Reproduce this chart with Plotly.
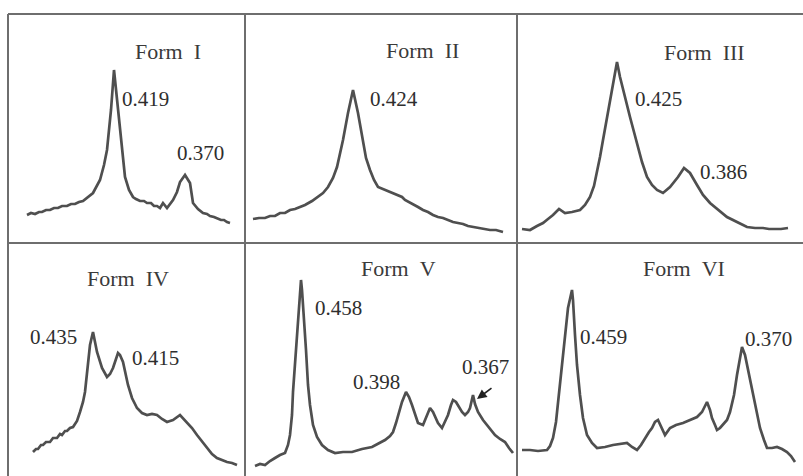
import plotly.graph_objects as go

# ---- Diffraction traces for six crystal forms (scan position, intensity) ----
form1_pos = [19, 23, 27, 31, 34, 38, 42, 46, 50, 54, 59, 63, 67, 71, 75, 80, 85, 92, 96, 99, 103,
             106, 109, 113, 117, 121, 125, 128, 132, 136, 139, 143, 146, 149, 152, 155, 159, 165,
             169, 172, 177, 182, 185, 190, 195, 199, 202, 206, 209, 213, 216, 219, 222]
form1_int = [28, 30, 29, 31, 31, 33, 33, 35, 35, 37, 37, 39, 39, 41, 42, 46, 50, 63, 78, 93, 133,
             173, 143, 103, 66, 53, 46, 44, 42, 42, 40, 40, 37, 37, 35, 40, 35, 43,
             51, 61, 68, 60, 40, 34, 30, 29, 27, 26, 25, 23, 23, 21, 20]

form2_pos = [8, 14, 20, 25, 30, 35, 40, 45, 50, 55, 60, 67, 73, 78, 83, 88, 92, 98, 103, 108,
             113, 118, 121, 125, 129, 133, 140, 144, 147, 150, 153, 157, 160, 166, 170, 173, 178,
             183, 188, 193, 198, 203, 208, 213, 218, 223, 228, 233, 239, 245, 251, 258]
form2_int = [24, 25, 25, 27, 27, 30, 30, 33, 34, 36, 38, 42, 46, 50, 56, 65, 76, 103, 130, 153,
             130, 100, 85, 73, 63, 56, 53, 51, 50, 49, 47, 46, 43, 40, 38, 36, 33,
             31, 28, 26, 25, 23, 21, 20, 19, 17, 16, 15, 14, 13, 13, 11]

form3_pos = [5, 13, 20, 26, 31, 36, 42, 48, 55, 63, 68, 73, 77, 80, 83, 86, 90, 93, 97, 100,
             103, 106, 110, 113, 117, 120, 125, 130, 135, 140, 146, 153, 157, 161, 167, 173, 180,
             186, 193, 201, 210, 220, 230, 238, 246, 252, 258, 264, 271]
form3_int = [14, 13, 17, 20, 24, 28, 34, 30, 31, 33, 38, 46, 57, 70, 86, 103, 125, 143, 165, 181,
             166, 153, 138, 126, 111, 100, 81, 66, 58, 53, 50, 56, 61, 66, 75, 70, 58,
             48, 40, 33, 26, 21, 16, 15, 15, 14, 14, 14, 15]

form4_pos = [25, 28, 30, 33, 35, 38, 42, 45, 49, 52, 54, 57, 59, 62, 65, 69, 72, 75, 77, 80, 82,
             85, 87, 89, 94, 99, 102, 105, 110, 112, 115, 118, 120, 124, 129, 134, 139, 144, 149,
             154, 159, 162, 165, 172, 179, 184, 189, 194, 199, 204, 209, 214, 219, 224, 229]
form4_int = [24, 27, 27, 31, 31, 34, 34, 38, 38, 42, 41, 45, 45, 48, 49, 55, 64, 74, 84, 114, 131,
             144, 134, 124, 108, 99, 102, 108, 123, 121, 114, 101, 91, 78, 68, 63, 61, 62, 61,
             57, 54, 55, 56, 61, 54, 48, 41, 35, 28, 22, 18, 16, 14, 13, 11]

form5_pos = [10, 15, 20, 25, 30, 35, 40, 43, 45, 47, 48, 50, 52, 54, 56, 57, 59, 61, 63, 65,
             68, 72, 77, 83, 90, 98, 107, 117, 127, 135, 140, 145, 148, 151, 153, 157, 161, 164,
             167, 170, 173, 178, 182, 185, 188, 190, 193, 197, 200, 203, 206, 208, 211, 213, 217,
             220, 223, 225, 228, 230, 233, 238, 242, 246, 250, 255, 260, 264, 268]
form5_int = [10, 12, 11, 15, 18, 21, 23, 31, 41, 61, 84, 114, 141, 176, 196, 186, 158, 126, 91, 71,
             51, 39, 31, 26, 23, 24, 24, 27, 29, 33, 36, 40, 44, 53, 61, 74, 84, 79,
             71, 61, 53, 51, 61, 68, 64, 59, 53, 48, 54, 61, 71, 76, 74, 71, 64,
             61, 64, 68, 81, 72, 64, 56, 51, 46, 41, 37, 34, 28, 23]

form6_pos = [5, 13, 21, 30, 33, 36, 39, 41, 44, 46, 49, 51, 55, 56, 58, 60, 63, 66, 70, 75,
             80, 88, 96, 103, 110, 115, 120, 124, 128, 132, 135, 138, 141, 144, 148, 153, 159, 166,
             173, 180, 185, 190, 193, 195, 198, 200, 203, 206, 210, 213, 217, 220, 223, 225, 228,
             230, 233, 236, 240, 243, 247, 250, 255, 260, 265, 270, 274, 278]
form6_int = [26, 26, 25, 26, 30, 38, 54, 74, 101, 124, 151, 168, 186, 176, 141, 111, 81, 58, 41, 33,
             28, 29, 31, 32, 33, 29, 26, 31, 38, 44, 48, 54, 56, 49, 41, 48, 51, 53,
             56, 59, 64, 74, 66, 58, 51, 46, 48, 51, 56, 64, 81, 101, 119, 129, 121,
             111, 96, 81, 63, 48, 36, 28, 28, 29, 27, 24, 20, 14]

form_names = ["Form&nbsp;&nbsp;I", "Form&nbsp;&nbsp;II", "Form&nbsp;&nbsp;III",
              "Form&nbsp;&nbsp;IV", "Form&nbsp;&nbsp;V", "Form&nbsp;&nbsp;VI"]

# d-spacing labels (nm) per panel: (text, x, y)
peak_labels = [
    [("0.419", 112, 144), ("0.370", 167, 90)],
    [("0.424", 123, 144)],
    [("0.425", 116, 144), ("0.386", 181, 71)],
    [("0.435", 20, 139), ("0.415", 122, 118)],
    [("0.458", 68, 168), ("0.398", 106, 94), ("0.367", 215, 109)],
    [("0.459", 61, 139), ("0.370", 226, 137)],
]
title_pos = [(160, 192), (177, 193), (187, 191), (120, 198), (153, 208), (167, 208)]

traces = [(form1_pos, form1_int), (form2_pos, form2_int), (form3_pos, form3_int),
          (form4_pos, form4_int), (form5_pos, form5_int), (form6_pos, form6_int)]

W, H = 803, 476
col_edges = [8, 245, 517, 803]
row_edges = [14, 243, 476]

fig = go.Figure()
line_color = "#4f4f4f"
text_color = "#2e2e2e"
serif = "Liberation Serif, Times New Roman, serif"

for i, (xs, ys) in enumerate(traces):
    r, c = divmod(i, 3)
    n = i + 1
    xa = "xaxis" if n == 1 else f"xaxis{n}"
    ya = "yaxis" if n == 1 else f"yaxis{n}"
    xref = "x" if n == 1 else f"x{n}"
    yref = "y" if n == 1 else f"y{n}"
    x0, x1 = col_edges[c], col_edges[c + 1]
    y0, y1 = row_edges[r], row_edges[r + 1]
    fig.add_trace(go.Scatter(x=xs, y=ys, mode="lines", xaxis=xref, yaxis=yref,
                             line=dict(color=line_color, width=2.7), showlegend=False,
                             hoverinfo="skip"))
    fig.update_layout(**{
        xa: dict(domain=[x0 / W, x1 / W], range=[0, x1 - x0], visible=False, fixedrange=True),
        ya: dict(domain=[1 - y1 / H, 1 - y0 / H], range=[0, y1 - y0], visible=False,
                 fixedrange=True),
    })
    tx, ty = title_pos[i]
    fig.add_annotation(x=tx, y=ty, xref=xref, yref=yref, text=form_names[i], showarrow=False,
                       xanchor="center", yanchor="middle",
                       font=dict(family=serif, size=22, color="#3a3a3a"))
    for txt, lx, ly in peak_labels[i]:
        fig.add_annotation(x=lx, y=ly, xref=xref, yref=yref, text=txt, showarrow=False,
                           xanchor="left", yanchor="middle",
                           font=dict(family=serif, size=21, color=text_color))

# arrow pointing at the 0.367 reflection of Form V
fig.add_annotation(x=232, y=77, xref="x5", yref="y5", ax=248, ay=89, axref="x5", ayref="y5",
                   text="", showarrow=True, arrowhead=2, arrowsize=1.2, arrowwidth=1.6,
                   arrowcolor="#222222")

# panel frame
frame = dict(color="#6e6e6e", width=2)
shapes = [
    dict(type="line", xref="paper", yref="paper", x0=8 / W, x1=1, y0=1 - 14 / H, y1=1 - 14 / H, line=frame),
    dict(type="line", xref="paper", yref="paper", x0=8 / W, x1=8 / W, y0=0, y1=1 - 14 / H, line=frame),
    dict(type="line", xref="paper", yref="paper", x0=8 / W, x1=1, y0=1 - 243 / H, y1=1 - 243 / H, line=frame),
    dict(type="line", xref="paper", yref="paper", x0=245 / W, x1=245 / W, y0=0, y1=1 - 14 / H, line=frame),
    dict(type="line", xref="paper", yref="paper", x0=517 / W, x1=517 / W, y0=0, y1=1 - 14 / H, line=frame),
]

fig.update_layout(width=W, height=H, margin=dict(l=0, r=0, t=0, b=0),
                  paper_bgcolor="white", plot_bgcolor="rgba(0,0,0,0)", shapes=shapes)

fig.write_html("out.html")
